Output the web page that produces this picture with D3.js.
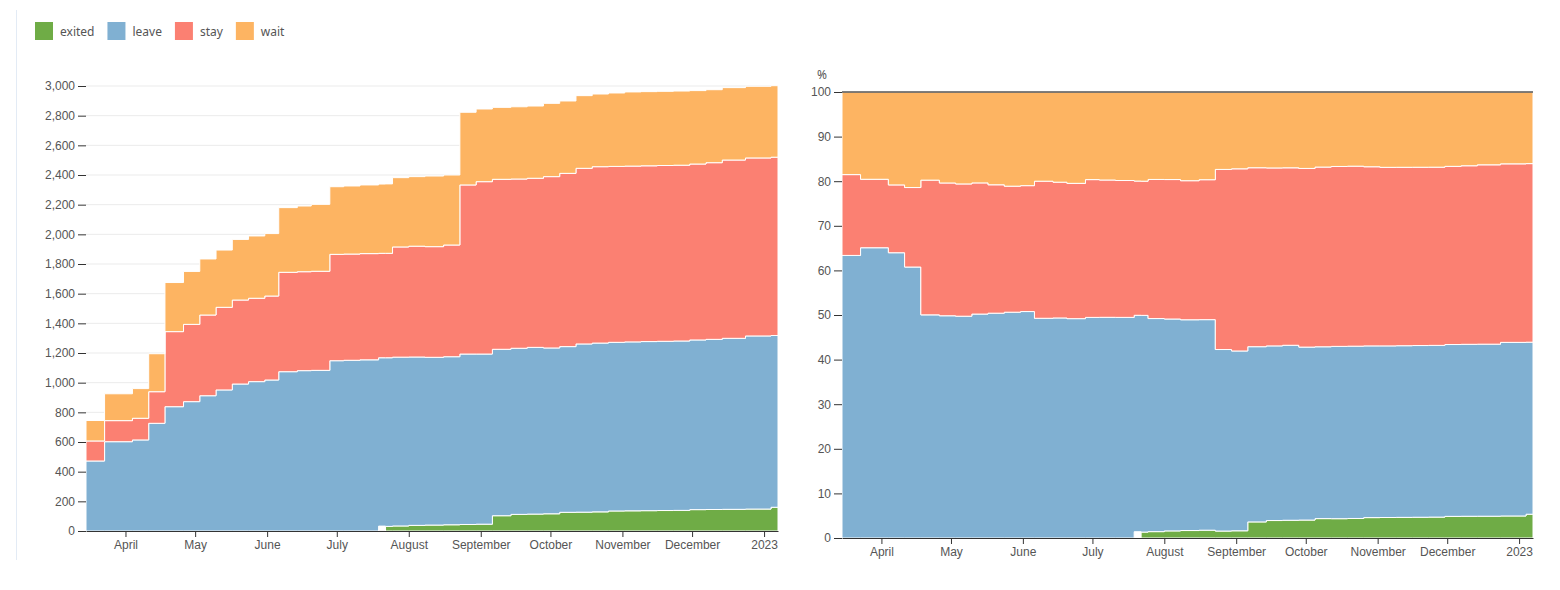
<!DOCTYPE html>
<html>
<head>
<meta charset="utf-8">
<title>Status over time</title>
<script src="https://d3js.org/d3.v7.min.js"></script>
<style>
  body { margin: 0; background: #fff; font-family: "Segoe UI", "Noto Sans", "Open Sans", sans-serif; }
  .frame { position: absolute; left: 16px; top: 10px; width: 1px; height: 550px; background: #e3ebf5; }
  .tick text { fill: #555; font-size: 12px; }
  .tick line, .domain { stroke: #333; }
  .legend text { fill: #555; font-size: 12px; }
</style>
</head>
<body>
<div class="frame"></div>
<svg id="chart" width="1560" height="590"></svg>

<script>
const keys = ["exited", "leave", "stay", "wait"];
const colors = ["#6fac46", "#80b0d2", "#fb8072", "#fdb462"];

const dates = ["2022-03-15","2022-03-23","2022-04-04","2022-04-11","2022-04-18","2022-04-26",
  "2022-05-03","2022-05-10","2022-05-17","2022-05-24","2022-05-31","2022-06-06","2022-06-14",
  "2022-06-20","2022-06-28","2022-07-04","2022-07-11","2022-07-19","2022-07-22","2022-07-25",
  "2022-08-01","2022-08-08","2022-08-16","2022-08-23","2022-08-30","2022-09-06","2022-09-14",
  "2022-09-21","2022-09-28","2022-10-05","2022-10-12","2022-10-19","2022-10-26","2022-11-02",
  "2022-11-09","2022-11-16","2022-11-23","2022-11-30","2022-12-07","2022-12-14","2022-12-24",
  "2023-01-04","2023-01-07"];

const exited = [0,0,0,0,0,0,0,0,0,0,0,0,0,0,0,0,0,33,31,34,38,40,42,44,46,103,112,114,116,
  126,127,129,135,136,137,138,139,144,145,146,148,160,160];
const leave = [472,602,614,726,838,872,912,951,991,1007,1018,1074,1081,1083,1148,1151,1154,
  1135,1137,1138,1135,1131,1133,1149,1147,1122,1120,1124,1118,1117,1134,1138,1137,1139,1140,
  1141,1142,1144,1147,1153,1167,1158,1158];
const stay = [135,142,146,213,506,521,544,557,566,562,566,670,667,668,717,716,716,704,704,743,
  747,746,753,1140,1162,1146,1141,1140,1155,1168,1184,1189,1186,1185,1185,1185,1185,1186,1191,
  1202,1200,1202,1202];
const wait = [138,181,200,256,331,357,378,386,409,420,421,436,443,451,456,459,463,467,468,467,
  469,476,472,490,490,485,487,487,494,488,490,490,495,500,500,500,500,495,492,488,483,482,482];

const countTicks = d3.range(0, 3001, 200);
const pctTicks = d3.range(0, 1.0001, 0.1);

const parse = d3.timeParse("%Y-%m-%d");
const rows = dates.map((d, i) => ({
  date: parse(d), exited: exited[i], leave: leave[i], stay: stay[i], wait: wait[i]
}));
const color = d3.scaleOrdinal().domain(keys).range(colors);

const svg = d3.select("#chart");

// legend
const legend = svg.append("g").attr("class", "legend").attr("transform", "translate(35,22)");
let lx = 0;
keys.forEach(k => {
  const item = legend.append("g").attr("transform", `translate(${lx},0)`);
  item.append("rect").attr("width", 18).attr("height", 18).attr("fill", color(k));
  const t = item.append("text").attr("x", 25).attr("y", 14).text(k);
  lx += 25 + t.node().getComputedTextLength() + 13;
});

function drawPanel(g, series, x, y) {
  const area = d3.area()
    .curve(d3.curveStepAfter)
    .x(d => x(d.data.date))
    .y0(d => y(d[0]))
    .y1(d => y(d[1]));

  g.selectAll("path.layer")
    .data(series)
    .join("path")
    .attr("class", "layer")
    .attr("fill", s => color(s.key))
    .attr("stroke", "#fff")
    .attr("stroke-width", 1)
    .attr("d", s => area.defined((d, i) => s.key !== "exited" || (i > 0 && exited[i - 1] > 0))(s));
}

// left: counts
{
  const x = d3.scaleTime().domain(d3.extent(rows, d => d.date)).range([86, 778]);
  const y = d3.scaleLinear().domain([0, 3000]).range([531, 86]);
  const g = svg.append("g");

  g.append("g")
    .selectAll("line")
    .data(countTicks)
    .join("line")
    .attr("x1", 86).attr("x2", 778)
    .attr("y1", d => y(d)).attr("y2", d => y(d))
    .attr("stroke", "#ebebeb");

  drawPanel(g, d3.stack().keys(keys)(rows), x, y);

  g.append("g")
    .attr("transform", "translate(0,531)")
    .call(d3.axisBottom(x).tickSizeOuter(0));

  g.append("g")
    .attr("transform", "translate(86,0)")
    .call(d3.axisLeft(y).tickValues(countTicks).tickFormat(d3.format(",")).tickSize(8).tickPadding(3))
    .call(a => a.select(".domain").remove());
}

// right: share
{
  const x = d3.scaleTime().domain(d3.extent(rows, d => d.date)).range([842, 1533]);
  const y = d3.scaleLinear().domain([0, 1]).range([538, 92]);
  const g = svg.append("g");

  drawPanel(g, d3.stack().keys(keys).offset(d3.stackOffsetExpand)(rows), x, y);

  g.append("line")
    .attr("x1", 842).attr("x2", 1533)
    .attr("y1", y(1)).attr("y2", y(1))
    .attr("stroke", "#555").attr("stroke-width", 1.5);

  g.append("g")
    .attr("transform", "translate(0,538)")
    .call(d3.axisBottom(x).tickSizeOuter(0));

  g.append("g")
    .attr("transform", "translate(842,0)")
    .call(d3.axisLeft(y).tickValues(pctTicks).tickFormat(d => Math.round(d * 100)).tickSize(8).tickPadding(3))
    .call(a => a.select(".domain").remove());

  g.append("text")
    .attr("x", 822).attr("y", 79)
    .attr("text-anchor", "middle")
    .attr("fill", "#555").attr("font-size", 12)
    .text("%");
}
</script>
</body>
</html>
